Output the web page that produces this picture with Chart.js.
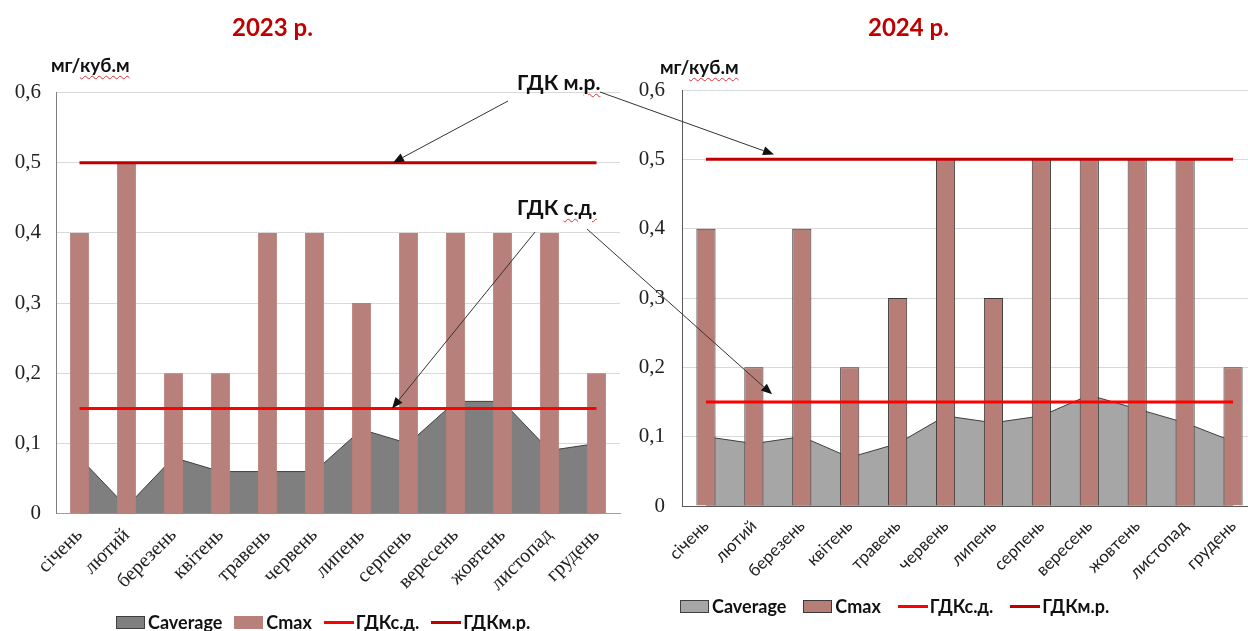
<!DOCTYPE html>
<html>
<head>
<meta charset="utf-8">
<script src="https://cdn.jsdelivr.net/npm/chart.js@4.4.0/dist/chart.umd.min.js"></script>
<style>
  html, body { margin: 0; padding: 0; background: #fff; width: 1248px; height: 631px; overflow: hidden; position: relative; }
  .wrap { position: absolute; top: 0; }
  #left-wrap { left: 0; width: 630px; height: 631px; }
  #right-wrap { left: 620px; width: 660px; height: 631px; }
  .title { position: absolute; font: bold 24px Lato, sans-serif; color: #C00000; line-height: 1; white-space: nowrap; }
  .unit { position: absolute; font: bold 19px Lato, sans-serif; color: #111; line-height: 1; white-space: nowrap; }
  .note { position: absolute; font: bold 21px Lato, sans-serif; color: #111; line-height: 1; white-space: nowrap; }
  .spell { text-decoration: underline wavy #e03030; text-decoration-thickness: 1px; text-underline-offset: 3px; }
  .legend { position: absolute; display: flex; align-items: center; font: bold 18px Lato, sans-serif; color: #111; line-height: 20px; white-space: nowrap; }
  .lg-item { display: flex; align-items: center; }
  .lg-box { display: inline-block; width: 29px; height: 13px; box-sizing: border-box; margin-right: 3px; }
  .lg-line { display: inline-block; width: 30px; height: 3px; margin-right: 2px; }
  #arrows { position: absolute; left: 0; top: 0; pointer-events: none; }
</style>
</head>
<body>
<div class="wrap" id="left-wrap"><canvas id="chart-2023" width="630" height="631"></canvas></div>
<div class="wrap" id="right-wrap"><canvas id="chart-2024" width="660" height="631"></canvas></div>

<div class="title" style="left:232px; top:15px;">2023 р.</div>
<div class="title" style="left:868px; top:15px;">2024 р.</div>
<div class="unit" style="left:51px; top:55px;">мг/<span class="spell">куб.м</span></div>
<div class="unit" style="left:660px; top:57px;">мг/<span class="spell">куб.м</span></div>
<div class="note" style="left:517px; top:71px;">ГДК м.<span class="spell">р.</span></div>
<div class="note" style="left:517px; top:196px;">ГДК <span class="spell">с.д.</span></div>
<div class="legend" id="legend-2023" style="left:116px; top:612px;"></div>
<div class="legend" id="legend-2024" style="left:680px; top:596px;"></div>
<canvas id="arrows" width="1248" height="631"></canvas>

<script>
// Data
var months = ['січень', 'лютий', 'березень', 'квітень', 'травень', 'червень',
  'липень', 'серпень', 'вересень', 'жовтень', 'листопад', 'грудень'];
var cAverage2023 = [0.08, 0.01, 0.08, 0.06, 0.06, 0.06, 0.12, 0.10, 0.16, 0.16, 0.09, 0.10];
var cMax2023 = [0.4, 0.5, 0.2, 0.2, 0.4, 0.4, 0.3, 0.4, 0.4, 0.4, 0.4, 0.2];
var cAverage2024 = [0.10, 0.09, 0.10, 0.07, 0.09, 0.13, 0.12, 0.13, 0.16, 0.14, 0.12, 0.093];
var cMax2024 = [0.4, 0.2, 0.4, 0.2, 0.3, 0.5, 0.3, 0.5, 0.5, 0.5, 0.5, 0.2];
var gdkSd = [0.15, 0.15, 0.15, 0.15, 0.15, 0.15, 0.15, 0.15, 0.15, 0.15, 0.15, 0.15];
var gdkMr = [0.5, 0.5, 0.5, 0.5, 0.5, 0.5, 0.5, 0.5, 0.5, 0.5, 0.5, 0.5];
var yMin = 0;
var yMax = 0.6;
var yStep = 0.1;

var legendStyles = ['rect', 'rect', 'line', 'line'];

var formatTick = function(value) {
  if (value === 0) return '0';
  return value.toFixed(1).replace('.', ',');
};

// Builds one of the two charts
var makeChart = function(id, o) {
  var ctx = document.getElementById(id).getContext('2d');
  return new Chart(ctx, {
    type: 'bar',
    data: {
      labels: months,
      datasets: [{
        type: 'line',
        label: 'Caverage',
        data: o.average,
        fill: 'origin',
        backgroundColor: o.areaColor,
        borderColor: '#3f3f3f',
        borderWidth: 1,
        pointRadius: 0,
        tension: 0,
        order: 3
      }, {
        type: 'bar',
        label: 'Cmax',
        data: o.max,
        backgroundColor: o.barColor,
        borderColor: '#3a3a3a',
        borderWidth: o.barBorder,
        barPercentage: 0.4,
        categoryPercentage: 1,
        order: 2
      }, {
        type: 'line',
        label: 'ГДКс.д.',
        data: gdkSd,
        borderColor: '#FF0000',
        borderWidth: 3,
        pointRadius: 0,
        fill: false,
        order: 1
      }, {
        type: 'line',
        label: 'ГДКм.р.',
        data: gdkMr,
        borderColor: '#C00000',
        borderWidth: 3,
        pointRadius: 0,
        fill: false,
        order: 0
      }]
    },
    options: {
      responsive: false,
      animation: false,
      devicePixelRatio: 1,
      layout: { padding: o.padding },
      plugins: {
        tooltip: { enabled: false },
        legend: { display: false }
      },
      scales: {
        x: {
          grid: { display: false },
          border: { color: o.xBorder, width: 1 },
          ticks: {
            autoSkip: false,
            minRotation: 45,
            maxRotation: 45,
            padding: 2,
            color: '#222',
            font: o.xFont
          },
          afterFit: function(scale) {
            scale.height = scale.chart.height - o.padding.bottom - o.bottomY;
          }
        },
        y: {
          min: yMin,
          max: yMax,
          grid: { color: '#d9d9d9', drawTicks: false },
          border: { color: o.yBorder, width: 1 },
          ticks: {
            stepSize: yStep,
            padding: o.yPad,
            color: '#222',
            font: { family: 'Liberation Serif', size: 21 },
            callback: formatTick
          },
          afterFit: function(scale) {
            scale.width = o.yWidth;
          }
        }
      }
    }
  });
};

// Legend in the page, taken from the chart datasets
var buildLegend = function(chart, el, gap) {
  chart.data.datasets.forEach(function(ds, i) {
    var item = document.createElement('span');
    item.className = 'lg-item';
    if (i < chart.data.datasets.length - 1) item.style.marginRight = gap + 'px';
    var sym = document.createElement('span');
    if (legendStyles[i] === 'rect') {
      sym.className = 'lg-box';
      sym.style.background = ds.backgroundColor;
      if (ds.borderWidth > 0) sym.style.border = '1px solid ' + ds.borderColor;
    } else {
      sym.className = 'lg-line';
      sym.style.background = ds.borderColor;
    }
    item.appendChild(sym);
    item.appendChild(document.createTextNode(ds.label));
    el.appendChild(item);
  });
};

var chart2023 = makeChart('chart-2023', {
  average: cAverage2023,
  max: cMax2023,
  areaColor: '#7f7f7f',
  barColor: '#b8807a',
  barBorder: 0,
  xBorder: '#d98684',
  yBorder: '#7f7f7f',
  xFont: { family: 'Liberation Serif', size: 20 },
  padding: { top: 92.5, left: 0, right: 10, bottom: 0 },
  bottomY: 513.7,
  yWidth: 56,
  yPad: 15
});

var chart2024 = makeChart('chart-2024', {
  average: cAverage2024,
  max: cMax2024,
  areaColor: '#a6a6a6',
  barColor: '#b77e78',
  barBorder: 1,
  xBorder: '#595959',
  yBorder: '#595959',
  xFont: { family: 'Lato', size: 17 },
  padding: { top: 90, left: 0, right: 23, bottom: 0 },
  bottomY: 506,
  yWidth: 62,
  yPad: 17
});

buildLegend(chart2023, document.getElementById('legend-2023'), 12);
buildLegend(chart2024, document.getElementById('legend-2024'), 17);

// Arrows from the notes to the limit lines
var actx = document.getElementById('arrows').getContext('2d');
var drawArrow = function(x1, y1, x2, y2) {
  var ang = Math.atan2(y2 - y1, x2 - x1);
  var len = 11;
  var half = 4.5;
  actx.strokeStyle = '#333';
  actx.fillStyle = '#111';
  actx.lineWidth = 1;
  actx.beginPath();
  actx.moveTo(x1, y1);
  actx.lineTo(x2 - Math.cos(ang) * len, y2 - Math.sin(ang) * len);
  actx.stroke();
  actx.beginPath();
  actx.moveTo(x2, y2);
  actx.lineTo(x2 - Math.cos(ang) * len - Math.sin(ang) * half, y2 - Math.sin(ang) * len + Math.cos(ang) * half);
  actx.lineTo(x2 - Math.cos(ang) * len + Math.sin(ang) * half, y2 - Math.sin(ang) * len - Math.cos(ang) * half);
  actx.closePath();
  actx.fill();
};
var rightOffset = 620;
var lx = chart2023.scales.x, ly = chart2023.scales.y;
var rx = chart2024.scales.x, ry = chart2024.scales.y;

drawArrow(508, 101, lx.getPixelForValue(6.67), ly.getPixelForValue(0.5));
drawArrow(600, 92, rightOffset + rx.getPixelForValue(1.42), ry.getPixelForValue(0.507));
drawArrow(535, 232, lx.getPixelForValue(6.65), ly.getPixelForValue(0.15));
drawArrow(587, 229, rightOffset + rx.getPixelForValue(1.38), ry.getPixelForValue(0.161));
</script>
</body>
</html>
